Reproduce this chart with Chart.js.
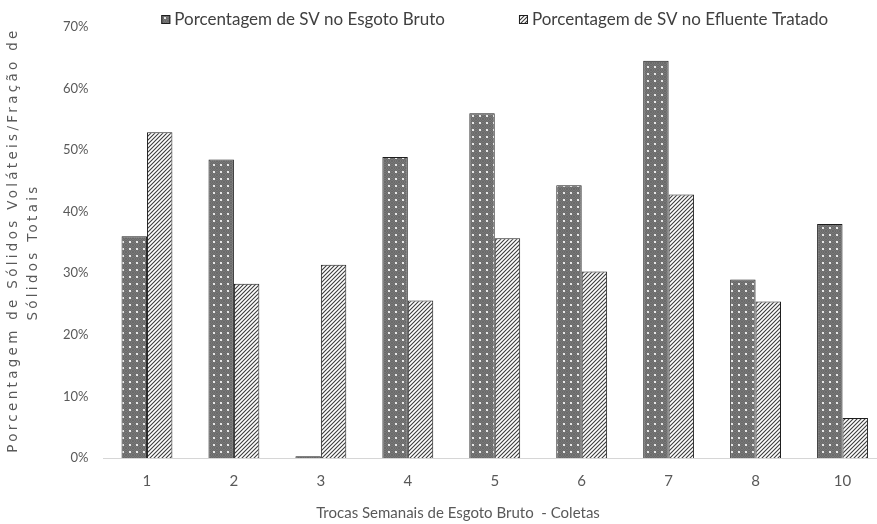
<!DOCTYPE html>
<html>
<head>
<meta charset="utf-8">
<script src="https://cdn.jsdelivr.net/npm/chart.js@4.4.0/dist/chart.umd.min.js"></script>
<style>
  html, body { margin: 0; padding: 0; background: #fff; overflow: hidden; }
  #wrap { width: 890px; height: 524px; }
</style>
</head>
<body>
<div id="wrap"><canvas id="chart" width="890" height="524"></canvas></div>
<script>
// data (percent)
const categories = ['1', '2', '3', '4', '5', '6', '7', '8', '10'];
const esgotoBruto = [36.0, 48.5, 0.3, 48.9, 56.0, 44.3, 64.5, 29.0, 38.0];
const efluenteTratado = [52.9, 28.3, 31.4, 25.6, 35.7, 30.3, 42.8, 25.4, 6.5];
const seriesNames = ['Porcentagem de SV no Esgoto Bruto', 'Porcentagem de SV no Efluente Tratado'];
const yMax = 70;
const yStep = 10;
const xTitle = 'Trocas Semanais de Esgoto Bruto  - Coletas';
const yTitle = ['Porcentagem de Sólidos Voláteis/Fração de', 'Sólidos Totais'];

const FONT = 'Lato, "Liberation Sans", sans-serif';
const LEGEND_GAP = 74;

// grey fill with light dots
function dotPattern() {
  var c = document.createElement('canvas');
  c.width = 7; c.height = 7;
  var g = c.getContext('2d');
  g.fillStyle = '#787878';
  g.fillRect(0, 0, 7, 7);
  g.fillStyle = '#6a6a6a';
  for (var x = 0; x < 7; x++) {
    for (var y = 0; y < 7; y++) {
      if ((x + y) % 2 === 0) g.fillRect(x, y, 1, 1);
    }
  }
  g.fillStyle = '#e8e8e8';
  g.fillRect(3, 3, 2, 2);
  return g.createPattern(c, 'repeat');
}

// white fill with "/" hatching
function hatchPattern() {
  var c = document.createElement('canvas');
  c.width = 4; c.height = 4;
  var g = c.getContext('2d');
  g.fillStyle = '#ffffff';
  g.fillRect(0, 0, 4, 4);
  g.strokeStyle = '#3c3c3c';
  g.lineWidth = 1.1;
  g.beginPath();
  g.moveTo(-1, 5); g.lineTo(5, -1);
  g.moveTo(-1, 1); g.lineTo(1, -1);
  g.moveTo(3, 5); g.lineTo(5, 3);
  g.stroke();
  return g.createPattern(c, 'repeat');
}

// legend: the two entries are far apart in the original, so it is drawn here
const seriesLegend = {
  id: 'seriesLegend',
  afterDraw(chart) {
    var ctx = chart.ctx, area = chart.chartArea;
    ctx.save();
    ctx.font = '17px ' + FONT;
    var items = chart.data.datasets.map(function (ds) {
      return { ds: ds, w: 9 + 4 + ctx.measureText(ds.label).width };
    });
    var total = items.reduce(function (s, it) { return s + it.w; }, 0) + LEGEND_GAP * (items.length - 1);
    var x = (area.left + area.right) / 2 - total / 2;
    var y = 20;
    items.forEach(function (it) {
      ctx.fillStyle = it.ds.backgroundColor;
      ctx.fillRect(x, y - 5, 9, 9);
      ctx.strokeStyle = '#1e1e1e';
      ctx.lineWidth = 1;
      ctx.strokeRect(x + 0.5, y - 4.5, 8, 8);
      ctx.fillStyle = '#404040';
      ctx.textAlign = 'left';
      ctx.textBaseline = 'middle';
      ctx.fillText(it.ds.label, x + 13, y);
      x += it.w + LEGEND_GAP;
    });
    ctx.restore();
  }
};

// axis titles placed like in the original figure
const axisTitles = {
  id: 'axisTitles',
  afterDraw(chart) {
    var ctx = chart.ctx;
    ctx.save();
    ctx.fillStyle = '#595959';
    ctx.textAlign = 'center';
    ctx.textBaseline = 'middle';
    ctx.font = '15px ' + FONT;
    ctx.fillText(xTitle, 458, 513);

    ctx.font = '13.5px "DejaVu Sans", sans-serif';
    ctx.letterSpacing = '3.3px';
    ctx.translate(13, 240);
    ctx.rotate(-Math.PI / 2);
    ctx.fillText(yTitle[0], 0, 0);
    ctx.fillText(yTitle[1], -12, 20);
    ctx.restore();
  }
};

new Chart(document.getElementById('chart'), {
  type: 'bar',
  data: {
    labels: categories,
    datasets: [
      {
        label: seriesNames[0],
        data: esgotoBruto,
        backgroundColor: dotPattern(),
        borderColor: '#1e1e1e',
        borderWidth: 1
      },
      {
        label: seriesNames[1],
        data: efluenteTratado,
        backgroundColor: hatchPattern(),
        borderColor: '#1e1e1e',
        borderWidth: 1
      }
    ]
  },
  options: {
    responsive: false,
    animation: false,
    devicePixelRatio: 1,
    layout: { padding: { left: 48, right: 4, top: 27, bottom: 20 } },
    datasets: {
      bar: { categoryPercentage: 0.585, barPercentage: 1.0 }
    },
    plugins: {
      tooltip: { enabled: false },
      legend: { display: false }
    },
    scales: {
      x: {
        grid: { display: false, drawTicks: false },
        border: { display: true, color: '#d6d6d6', width: 1 },
        ticks: { color: '#595959', padding: 14, font: { family: FONT, size: 15 } }
      },
      y: {
        min: 0,
        max: yMax,
        grid: { display: false, drawTicks: false },
        border: { display: false },
        ticks: {
          stepSize: yStep,
          padding: 15,
          color: '#595959',
          font: { family: FONT, size: 13 },
          callback: function (v) { return v + '%'; }
        }
      }
    }
  },
  plugins: [seriesLegend, axisTitles]
});
</script>
</body>
</html>
